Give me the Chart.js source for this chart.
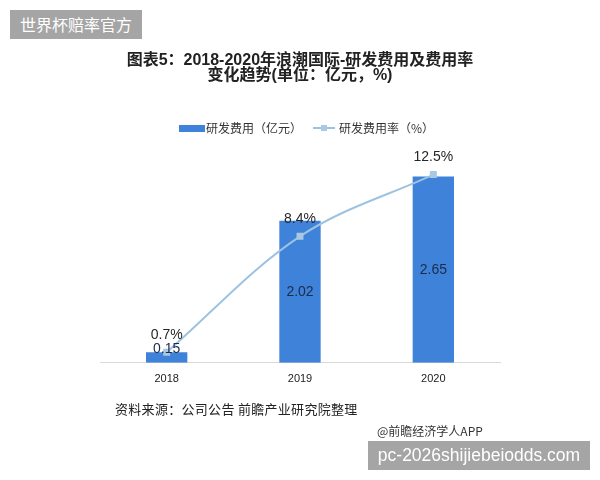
<!DOCTYPE html>
<html>
<head>
<meta charset="utf-8">
<script src="https://cdn.jsdelivr.net/npm/chart.js@4"></script>
<style>
  body { margin: 0; background: #fff; font-family: "Liberation Sans", "Noto Sans CJK SC", sans-serif; }
  #wrap { position: relative; width: 600px; height: 480px; overflow: hidden; }
  canvas { position: absolute; left: 0; top: 0; }
  .box { position: absolute; background: #a5a5a5; color: #fff; font-family: "Noto Sans CJK SC", sans-serif; white-space: nowrap; }
  #title { position: absolute; left: 100px; width: 400px; top: 52px; text-align: center; font-weight: bold; font-size: 16px; line-height: 15px; color: #222; white-space: nowrap; }
  #legend { position: absolute; top: 120px; left: 179px; height: 16px; font-size: 12px; color: #333; white-space: nowrap; font-family: "Noto Sans CJK SC", sans-serif; }
  #legend span { position: absolute; }
  .note { position: absolute; font-size: 13px; color: #222; white-space: nowrap; font-family: "Noto Sans CJK SC", sans-serif; }
</style>
</head>
<body>
<div id="wrap">
  <canvas id="chart" width="600" height="480"></canvas>
  <div class="box" style="left:10px;top:10px;width:132px;height:29px;line-height:29px;font-size:16px;text-align:center;">世界杯赔率官方</div>
  <div id="title">图表5：2018-2020年浪潮国际-研发费用及费用率<br>变化趋势(单位：亿元，%)</div>
  <div id="legend">
    <span style="left:0;top:5px;width:26px;height:7px;background:#3f82d9;"></span>
    <span style="left:27px;top:0;line-height:16px;">研发费用（亿元）</span>
    <span style="left:134px;top:7px;width:22px;height:2px;background:#9ec3e0;"></span>
    <span style="left:142px;top:5px;width:6px;height:6px;background:#a8c8e4;"></span>
    <span style="left:160px;top:0;line-height:16px;">研发费用率（%）</span>
  </div>
  <div class="note" style="left:115px;top:399px;letter-spacing:0.3px;">资料来源：公司公告 前瞻产业研究院整理</div>
  <div class="note" style="left:377px;top:422px;font-size:12px;color:#333;">@前瞻经济学人APP</div>
  <div class="box" style="left:368px;top:441px;width:222px;height:29px;line-height:29px;font-size:17.5px;text-align:center;font-family:'Liberation Sans',sans-serif;">pc-2026shijiebeiodds.com</div>
</div>
<script>
const years = ['2018', '2019', '2020'];
const rdSpend = [0.15, 2.02, 2.65];     // 亿元
const rdRatio = [0.7, 8.4, 12.5];       // %
const spendLabels = ['0.15', '2.02', '2.65'];
const ratioLabels = ['0.7%', '8.4%', '12.5%'];

// draw value labels from the element positions
const valueLabels = {
  id: 'valueLabels',
  afterDatasetsDraw(chart) {
    const ctx = chart.ctx;
    ctx.save();
    ctx.textAlign = 'center';
    ctx.textBaseline = 'middle';
    ctx.font = '14px "Liberation Sans", sans-serif';
    chart.getDatasetMeta(0).data.forEach((bar, i) => {
      const y = Math.min((bar.y + bar.base) / 2, bar.base - 14);
      ctx.fillStyle = '#1c2b4a';
      ctx.fillText(spendLabels[i], bar.x, y);
    });
    chart.getDatasetMeta(1).data.forEach((pt, i) => {
      ctx.fillStyle = '#262626';
      ctx.fillText(ratioLabels[i], pt.x, pt.y - 17);
    });
    ctx.restore();
  }
};

new Chart(document.getElementById('chart'), {
  data: {
    labels: years,
    datasets: [
      {
        type: 'bar', label: '研发费用（亿元）', data: rdSpend, yAxisID: 'y',
        backgroundColor: '#3f82d9', categoryPercentage: 1, barPercentage: 0.31, order: 2
      },
      {
        type: 'line', label: '研发费用率（%）', data: rdRatio, yAxisID: 'y1',
        borderColor: '#9ec3e0', borderWidth: 2, tension: 0.35,
        pointStyle: 'rect', pointRadius: 3.5, pointBackgroundColor: '#a8c8e4', pointBorderColor: '#a8c8e4', order: 1
      }
    ]
  },
  options: {
    responsive: false,
    animation: false,
    layout: { padding: { top: 152, left: 100, right: 100, bottom: 92 } },
    plugins: { legend: { display: false }, title: { display: false }, tooltip: { enabled: false } },
    scales: {
      x: {
        grid: { display: false },
        border: { color: '#d9d9d9' },
        ticks: { color: '#222', font: { size: 11, family: '"Liberation Sans", sans-serif' }, padding: 2 }
      },
      y: { display: false, min: 0, max: 3 },
      y1: { display: false, min: 0, max: 14 }
    }
  },
  plugins: [valueLabels]
});
</script>
</body>
</html>
